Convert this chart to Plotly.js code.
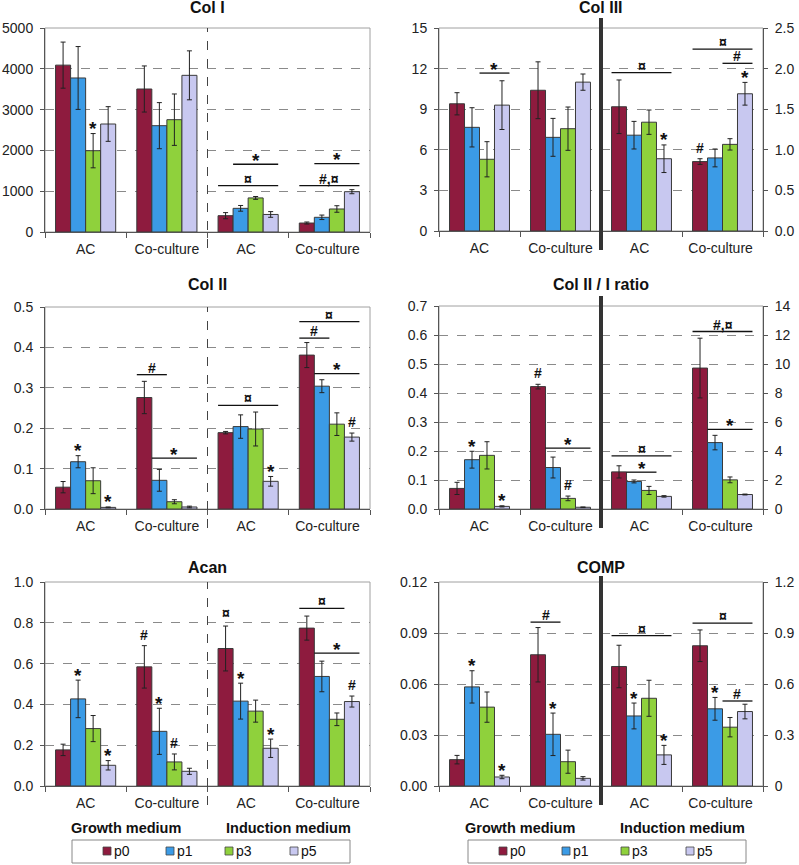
<!DOCTYPE html>
<html><head><meta charset="utf-8">
<script src="https://cdn.plot.ly/plotly-3.0.1.min.js"></script>
<style>html,body{margin:0;padding:0;background:#fff}</style>
</head><body><div id="chart" style="width:799px;height:865px"></div>
<script>
// ---------- DATA ----------
const categories = ['AC', 'Co-culture', 'AC ', 'Co-culture '];
const seriesNames = ['p0', 'p1', 'p3', 'p5'];
const seriesColors = ['#8E1B3E', '#3B9BE6', '#8FD13C', '#C8C8F0'];
const mediumLabels = ['Growth medium', 'Induction medium'];

// each row = one series (p0,p1,p3,p5); columns = [GM-AC, GM-Co, IM-AC, IM-Co]
const colI_vals = [[4090, 3505, 400, 220], [3775, 2606, 580, 360], [1993, 2753, 835, 564], [2647, 3840, 430, 988]];
const colI_errs = [[565, 565, 75, 25], [770, 565, 70, 55], [420, 630, 35, 80], [425, 600, 70, 50]];

const colIII_vals = [[9.4, 10.4, 1.53, 0.855], [7.66, 6.92, 1.18, 0.90], [5.3, 7.56, 1.34, 1.067], [9.3, 11.0, 0.89, 1.69]];
const colIII_errs = [[0.82, 2.1, 0.33, 0.035], [1.45, 1.4, 0.17, 0.11], [1.3, 1.6, 0.15, 0.07], [1.8, 0.6, 0.17, 0.14]];

const colII_vals = [[0.054, 0.276, 0.189, 0.381], [0.117, 0.071, 0.204, 0.304], [0.070, 0.018, 0.198, 0.210], [0.004, 0.005, 0.0685, 0.178]];
const colII_errs = [[0.014, 0.04, 0.003, 0.031], [0.015, 0.027, 0.029, 0.016], [0.032, 0.005, 0.042, 0.028], [0.001, 0.002, 0.012, 0.01]];

const ratio_vals = [[0.071, 0.422, 2.56, 9.72], [0.170, 0.143, 1.90, 4.58], [0.185, 0.0366, 1.28, 2.01], [0.009, 0.006, 0.87, 1.0]];
const ratio_errs = [[0.021, 0.008, 0.42, 2.06], [0.029, 0.036, 0.1, 0.5], [0.047, 0.008, 0.28, 0.2], [0.002, 0.001, 0.05, 0.03]];

const acan_vals = [[0.177, 0.584, 0.674, 0.774], [0.427, 0.268, 0.416, 0.537], [0.2815, 0.118, 0.367, 0.327], [0.1015, 0.072, 0.185, 0.414]];
const acan_errs = [[0.028, 0.104, 0.11, 0.059], [0.092, 0.113, 0.088, 0.075], [0.064, 0.039, 0.054, 0.031], [0.023, 0.015, 0.045, 0.027]];

const comp_vals = [[0.0155, 0.0772, 0.703, 0.825], [0.0583, 0.0304, 0.412, 0.454], [0.0464, 0.0143, 0.516, 0.346], [0.0053, 0.0045, 0.183, 0.438]];
const comp_errs = [[0.0025, 0.016, 0.125, 0.093], [0.0095, 0.0125, 0.076, 0.067], [0.0089, 0.0068, 0.106, 0.057], [0.001, 0.001, 0.056, 0.043]];

// significance brackets: [panel, group, fromBar, toBar, yValue, label]
const sigLines = [
  [1, 2, 0, 3, 1135, '¤'], [1, 2, 1, 3, 1660, '*'], [1, 3, 0, 3, 1135, '#,¤'], [1, 3, 1, 3, 1675, '*'],
  [2, 0, 2, 3, 11.67, '*'], [2, 2, 0, 3, 1.95, '¤'], [2, 3, 0, 3, 2.24, '¤'], [2, 3, 2, 3, 2.065, '#'],
  [3, 1, 0, 1, 0.3325, '#'], [3, 1, 1, 3, 0.126, '*'], [3, 2, 0, 3, 0.2566, '¤'], [3, 3, 0, 3, 0.4637, '¤'], [3, 3, 0, 1, 0.423, '#'], [3, 3, 1, 3, 0.335, '*'],
  [4, 1, 1, 3, 0.21, '*'], [4, 2, 0, 3, 3.66, '¤'], [4, 2, 1, 2, 2.54, '*'], [4, 3, 0, 3, 12.24, '#,¤'], [4, 3, 1, 3, 5.49, '*'],
  [5, 3, 0, 2, 0.871, '¤'], [5, 3, 1, 3, 0.651, '*'],
  [6, 1, 0, 1, 0.0964, '#'], [6, 2, 0, 3, 0.884, '¤'], [6, 3, 0, 3, 0.958, '¤'], [6, 3, 2, 3, 0.50, '#']
];
// symbols over single bars: [panel, group, bar, label]
const barMarks = [
  [1, 0, 2, '*'],
  [2, 2, 3, '*'], [2, 3, 0, '#'], [2, 3, 3, '*'],
  [3, 0, 1, '*'], [3, 0, 3, '*'], [3, 2, 3, '*'], [3, 3, 3, '#'],
  [4, 0, 1, '*'], [4, 0, 3, '*'], [4, 1, 0, '#'], [4, 1, 2, '#'],
  [5, 0, 1, '*'], [5, 0, 3, '*'], [5, 1, 0, '#'], [5, 1, 1, '*'], [5, 1, 2, '#'], [5, 2, 0, '¤'], [5, 2, 1, '*'], [5, 2, 3, '*'], [5, 3, 3, '#'],
  [6, 0, 1, '*'], [6, 0, 3, '*'], [6, 1, 1, '*'], [6, 2, 1, '*'], [6, 2, 3, '*'], [6, 3, 1, '*']
];

// ---------- LAYOUT CONFIG ----------
const W = 799, H = 865;
const PX = x => x / W, PY = y => 1 - y / H;
const FONT = 'Liberation Sans, Arial, sans-serif';

const panels = [
  {n: 1, title: 'Col I', vals: colI_vals, errs: colI_errs, dual: false, xd: [45, 370], yd: [28, 232], yr: [0, 5000], dt: 1000, fmt: 'd', tTop: 8, sep: [28, 248]},
  {n: 2, title: 'Col III', vals: colIII_vals, errs: colIII_errs, dual: true, xd: [439, 763], yd: [28, 231], yr: [0, 15], dt: 3, fmt: 'd', yr2: [0, 2.5], dt2: 0.5, fmt2: '.1f', tTop: 8, sep: [18, 250]},
  {n: 3, title: 'Col II', vals: colII_vals, errs: colII_errs, dual: false, xd: [45, 370], yd: [307, 509], yr: [0, 0.5], dt: 0.1, fmt: '.1f', tTop: 284, sep: [307, 528]},
  {n: 4, title: 'Col II / I ratio', vals: ratio_vals, errs: ratio_errs, dual: true, xd: [439, 763], yd: [306, 509], yr: [0, 0.7], dt: 0.1, fmt: '.1f', yr2: [0, 14], dt2: 2, fmt2: 'd', tTop: 284, sep: [296, 528]},
  {n: 5, title: 'Acan', vals: acan_vals, errs: acan_errs, dual: false, xd: [45, 370], yd: [582, 786], yr: [0, 1.0], dt: 0.2, fmt: '.1f', tTop: 567, sep: [582, 805]},
  {n: 6, title: 'COMP', vals: comp_vals, errs: comp_errs, dual: true, xd: [439, 763], yd: [582, 786], yr: [0, 0.12], dt: 0.03, fmt: '.2f', yr2: [0, 1.2], tv2: [0, 0.3, 0.6, 0.9, 1.2], tt2: ['0', '0.3', '0.6', '0.9', '1.2'], tTop: 567, sep: [576, 805]}
];
const secondaryId = {2: 7, 4: 8, 6: 9};

const BARGAP = 0.26, NB = 4, BW = (1 - BARGAP) / NB;
const barX = (g, b) => g - (1 - BARGAP) / 2 + BW * (b + 0.5);
const edgeL = (g, b) => g - (1 - BARGAP) / 2 + BW * b;
const edgeR = (g, b) => g - (1 - BARGAP) / 2 + BW * (b + 1);

const traces = [];
const layout = {
  width: W, height: H, margin: {l: 0, r: 0, t: 0, b: 0},
  paper_bgcolor: '#fff', plot_bgcolor: 'rgba(0,0,0,0)',
  barmode: 'group', bargap: BARGAP, bargroupgap: 0, showlegend: false,
  font: {family: FONT, size: 14, color: '#222'},
  shapes: [], annotations: []
};

const yAxisBase = (range) => ({
  range: range, ticks: 'outside', ticklen: 4, tickcolor: '#555', showline: true, linecolor: '#555', linewidth: 1,
  zeroline: false, fixedrange: true, ticklabelstandoff: 4, tickfont: {family: FONT, size: 14, color: '#222'}
});

panels.forEach(p => {
  const n = p.n;
  const xa = 'x' + n, ya = 'y' + n;
  layout['xaxis' + n] = {
    domain: [PX(p.xd[0]), PX(p.xd[1])], anchor: ya, type: 'category', categoryorder: 'array', categoryarray: categories,
    range: [-0.5, 3.5], tickson: 'boundaries', ticks: 'outside', ticklen: 5, tickcolor: '#555', ticklabelstandoff: 4,
    showline: true, linecolor: '#555', linewidth: 1, showgrid: false, zeroline: false, fixedrange: true,
    tickfont: {family: FONT, size: 14, color: '#222'}
  };
  const yax = Object.assign(yAxisBase(p.yr), {
    domain: [PY(p.yd[1]), PY(p.yd[0])], anchor: xa, dtick: p.dt, tick0: 0, tickformat: p.fmt,
    showgrid: true, gridcolor: '#8a8a8a', gridwidth: 1, griddash: 'dash'
  });
  layout['yaxis' + n] = yax;
  let y2 = null;
  if (p.dual) {
    const m = secondaryId[n];
    y2 = 'y' + m;
    const y2ax = Object.assign(yAxisBase(p.yr2), {overlaying: ya, side: 'right', anchor: xa, showgrid: false});
    if (p.tv2) { y2ax.tickmode = 'array'; y2ax.tickvals = p.tv2; y2ax.ticktext = p.tt2; }
    else { y2ax.dtick = p.dt2; y2ax.tick0 = 0; y2ax.tickformat = p.fmt2; }
    layout['yaxis' + m] = y2ax;
  }
  // bars
  seriesNames.forEach((s, i) => {
    const base = {
      type: 'bar', name: s, xaxis: xa,
      marker: {color: seriesColors[i], line: {color: '#3a3a3a', width: 1}},
      hoverinfo: 'skip'
    };
    const errStyle = {type: 'data', visible: true, color: '#222', thickness: 1, width: 2.5};
    if (!p.dual) {
      traces.push(Object.assign({}, base, {x: categories, y: p.vals[i], yaxis: ya, error_y: Object.assign({array: p.errs[i]}, errStyle)}));
    } else {
      traces.push(Object.assign({}, base, {x: categories.slice(0, 2), y: p.vals[i].slice(0, 2), yaxis: ya, error_y: Object.assign({array: p.errs[i].slice(0, 2)}, errStyle)}));
      traces.push(Object.assign({}, base, {x: categories.slice(2), y: p.vals[i].slice(2), yaxis: y2, error_y: Object.assign({array: p.errs[i].slice(2)}, errStyle)}));
    }
  });
  // frame
  layout.shapes.push({type: 'rect', xref: 'paper', yref: 'paper', x0: PX(p.xd[0]), x1: PX(p.xd[1]), y0: PY(p.yd[1]), y1: PY(p.yd[0]),
    line: {color: '#a0a0a0', width: 1}, layer: 'below'});
  // separator
  if (p.dual) {
    layout.shapes.push({type: 'line', xref: xa, yref: 'paper', x0: 1.5, x1: 1.5, y0: PY(p.sep[1]), y1: PY(p.sep[0]), line: {color: '#333', width: 4}});
  } else {
    layout.shapes.push({type: 'line', xref: xa, yref: 'paper', x0: 1.5, x1: 1.5, y0: PY(p.sep[1]), y1: PY(p.sep[0]), line: {color: '#444', width: 1, dash: 'dash'}});
  }
  // title
  layout.annotations.push({xref: 'paper', yref: 'paper', x: (PX(p.xd[0]) + PX(p.xd[1])) / 2, y: PY(p.tTop), xanchor: 'center', yanchor: 'middle',
    text: '<b>' + p.title + '</b>', showarrow: false, font: {family: FONT, size: 16, color: '#111'}});
});

const axisFor = (n, g) => (secondaryId[n] && g >= 2) ? 'y' + secondaryId[n] : 'y' + n;
const panelOf = n => panels.find(p => p.n === n);
const symFont = lab => ({family: FONT, size: lab === '*' ? 19 : 14, color: '#111'});

sigLines.forEach(([n, g, b0, b1, yv, lab]) => {
  const yr = axisFor(n, g);
  layout.shapes.push({type: 'line', xref: 'x' + n, yref: yr, x0: edgeL(g, b0), x1: edgeR(g, b1), y0: yv, y1: yv, line: {color: '#111', width: 1.3}});
  layout.annotations.push({xref: 'x' + n, yref: yr, x: (edgeL(g, b0) + edgeR(g, b1)) / 2, y: yv, text: '<b>' + lab + '</b>', showarrow: false,
    xanchor: 'center', yanchor: 'middle', yshift: lab === '*' ? 4 : 7, font: symFont(lab)});
});
barMarks.forEach(([n, g, b, lab]) => {
  const p = panelOf(n);
  const yv = p.vals[b][g] + p.errs[b][g];
  layout.annotations.push({xref: 'x' + n, yref: axisFor(n, g), x: barX(g, b), y: yv, text: '<b>' + lab + '</b>', showarrow: false,
    xanchor: 'center', yanchor: 'middle', yshift: lab === '*' ? 5 : (lab === '#' ? 11 : 13), font: symFont(lab)});
});

// medium labels + legends under the bottom panels
[panels[4], panels[5]].forEach(p => {
  const L = p.xd[0], R = p.xd[1], cw = (R - L) / 4;
  mediumLabels.forEach((m, k) => {
    layout.annotations.push({xref: 'paper', yref: 'paper', x: PX(L + cw * (2 * k + 1)), y: PY(828), xanchor: 'center', yanchor: 'middle',
      text: '<b>' + m + '</b>', showarrow: false, font: {family: FONT, size: 14.5, color: '#111'}});
  });
  const off = p.n === 5 ? 0 : 396;
  const boxL = 72 + off, boxR = 350 + off;
  layout.shapes.push({type: 'rect', xref: 'paper', yref: 'paper', x0: PX(boxL), x1: PX(boxR), y0: PY(863), y1: PY(840), line: {color: '#888', width: 1}, fillcolor: '#fff'});
  const centers = [107, 170, 229, 294];
  seriesNames.forEach((s, i) => {
    const cx = centers[i] + off;
    layout.shapes.push({type: 'rect', xref: 'paper', yref: 'paper', x0: PX(cx - 4), x1: PX(cx + 4), y0: PY(855), y1: PY(847),
      fillcolor: seriesColors[i], line: {color: '#444', width: 0.8}});
    layout.annotations.push({xref: 'paper', yref: 'paper', x: PX(cx + 5), y: PY(851), xanchor: 'left', yanchor: 'middle',
      text: s, showarrow: false, font: {family: FONT, size: 14, color: '#111'}});
  });
});

Plotly.newPlot('chart', traces, layout, {staticPlot: true, displayModeBar: false});
</script></body></html>
